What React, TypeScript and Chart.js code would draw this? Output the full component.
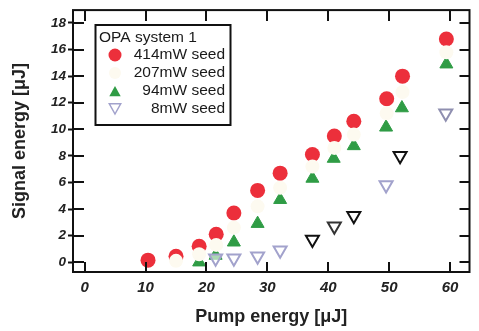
import React, { useEffect, useRef } from 'react';
import { Chart, registerables } from 'chart.js';
Chart.register(...registerables);

// ---- data ----
const pump414 = [10.4, 15.0, 18.8, 21.6, 24.5, 28.4, 32.1, 37.4, 41.0, 44.2, 49.6, 52.2, 59.4];
const sig414 = [0.15, 0.45, 1.2, 2.1, 3.7, 5.4, 6.7, 8.1, 9.5, 10.6, 12.3, 14.0, 16.8];
const pump207 = [15.0, 18.8, 21.6, 24.5, 28.4, 32.1, 37.4, 41.0, 44.2, 49.6, 52.2, 59.4];
const sig207 = [0.1, 0.6, 1.3, 2.6, 4.2, 5.6, 7.2, 8.6, 9.6, 11.2, 12.8, 15.8];
const pump94 = [18.8, 21.5, 24.5, 28.4, 32.1, 37.4, 40.9, 44.2, 49.5, 52.1, 59.4];
const sig94 = [0.0, 0.5, 1.5, 2.9, 4.7, 6.3, 7.8, 8.75, 10.15, 11.6, 14.9];
const pump8 = [21.5, 24.5, 28.4, 32.1, 37.4, 41.0, 44.2, 49.5, 51.8, 59.3];
const sig8 = [0.3, 0.3, 0.45, 0.9, 1.7, 2.7, 3.5, 5.8, 8.0, 11.2];
const seedLabels = ['414mW seed', '207mW seed', '94mW seed', '8mW seed'];
const legendTitle = 'OPA system 1';
const xTicks = [0, 10, 20, 30, 40, 50, 60];
const yTicks = [0, 2, 4, 6, 8, 10, 12, 14, 16, 18];
const xTitle = 'Pump energy [\u03bcJ]';
const yTitle = 'Signal energy [\u03bcJ]';

const RED = '#ec2f3b';
const PALE = '#fdfaf0';
const GREEN = '#2f9c45';
const LAV = '#a2a2cc';
const DARK = '#111';
const FONT = '"Liberation Sans", Arial, sans-serif';

const pts = (xs: number[], ys: number[]) => xs.map((x, i) => ({ x, y: ys[i] }));

function tri(ctx: CanvasRenderingContext2D, x: number, y: number, r: number, down: boolean) {
  const s = down ? -1 : 1;
  ctx.beginPath();
  ctx.moveTo(x, y - s * r);
  ctx.lineTo(x + r * 0.95, y + s * r * 0.7);
  ctx.lineTo(x - r * 0.95, y + s * r * 0.7);
  ctx.closePath();
}

const framePlugin = {
  id: 'frame',
  afterDraw(chart: any) {
    const { ctx, chartArea } = chart;
    const { left, right, top, bottom } = chartArea;
    const xs = chart.scales.x;
    const ys = chart.scales.y;
    ctx.save();
    ctx.strokeStyle = DARK;
    ctx.lineWidth = 2;
    ctx.strokeRect(left, top, right - left, bottom - top);
    ctx.beginPath();
    xTicks.forEach((v) => {
      const px = Math.round(xs.getPixelForValue(v));
      ctx.moveTo(px, bottom);
      ctx.lineTo(px, bottom - 10);
      ctx.moveTo(px, top);
      ctx.lineTo(px, top + 11);
    });
    yTicks.forEach((v) => {
      const py = Math.round(ys.getPixelForValue(v));
      ctx.moveTo(left, py);
      ctx.lineTo(left + 11, py);
      ctx.moveTo(right, py);
      ctx.lineTo(right - 10, py);
    });
    ctx.stroke();

    // legend
    const bx = 95.5, by = 25, bw = 135, bh = 100;
    ctx.fillStyle = '#fff';
    ctx.fillRect(bx, by, bw, bh);
    ctx.lineWidth = 2;
    ctx.strokeStyle = DARK;
    ctx.strokeRect(bx, by, bw, bh);
    ctx.fillStyle = '#1a1a1a';
    ctx.font = `15.5px ${FONT}`;
    ctx.textBaseline = 'middle';
    ctx.textAlign = 'left';
    ctx.fillText(legendTitle, 99, 38);
    ctx.textAlign = 'right';
    const rows = [55, 73, 91, 109];
    seedLabels.forEach((lab, i) => ctx.fillText(lab, 225, rows[i]));
    // symbols
    ctx.beginPath();
    ctx.arc(115, rows[0], 6.5, 0, Math.PI * 2);
    ctx.fillStyle = RED;
    ctx.fill();
    ctx.beginPath();
    ctx.arc(115, rows[1], 6, 0, Math.PI * 2);
    ctx.fillStyle = PALE;
    ctx.fill();
    tri(ctx, 115, rows[2] + 1, 6, false);
    ctx.fillStyle = GREEN;
    ctx.fill();
    tri(ctx, 115, rows[3] - 1, 6, true);
    ctx.lineWidth = 1.5;
    ctx.strokeStyle = LAV;
    ctx.stroke();
    ctx.restore();
  },
};

export default function App() {
  const ref = useRef<HTMLCanvasElement | null>(null);
  useEffect(() => {
    if (!ref.current) return;
    const tickFont = { family: FONT, weight: 'bold' as const, style: 'italic' as const };
    const chart = new Chart(ref.current, {
      type: 'scatter',
      data: {
        datasets: [
          {
            label: seedLabels[1],
            data: pts(pump207, sig207),
            pointStyle: 'circle',
            pointRadius: 7,
            backgroundColor: PALE,
            borderColor: PALE,
            borderWidth: 0,
          },
          {
            label: seedLabels[3],
            data: pts(pump8, sig8),
            pointStyle: 'triangle',
            rotation: 180,
            pointRadius: 7.5,
            backgroundColor: 'rgba(255,255,255,0.6)',
            borderColor: [LAV, LAV, LAV, LAV, DARK, '#333', DARK, LAV, DARK, '#8f8fb0'],
            borderWidth: 2,
          },
          {
            label: seedLabels[2],
            data: pts(pump94, sig94),
            pointStyle: 'triangle',
            pointRadius: 7.5,
            backgroundColor: GREEN,
            borderColor: GREEN,
            borderWidth: 1,
          },
          {
            label: seedLabels[0],
            data: pts(pump414, sig414),
            pointStyle: 'circle',
            pointRadius: 7.5,
            backgroundColor: RED,
            borderColor: RED,
            borderWidth: 0,
          },
        ],
      },
      options: {
        responsive: false,
        animation: false,
        devicePixelRatio: 1,
        layout: { padding: { top: 7, right: -1, left: 0, bottom: 0 } },
        plugins: { legend: { display: false }, tooltip: { enabled: false } },
        scales: {
          x: {
            type: 'linear',
            min: -1.92,
            max: 63.2,
            afterBuildTicks: (s: any) => { s.ticks = xTicks.map((v) => ({ value: v })); },
            afterFit: (s: any) => { s.height = 59; },
            border: { display: false },
            grid: { display: true, drawOnChartArea: false, drawTicks: false, color: DARK },
            ticks: { padding: 7, color: '#222', font: { ...tickFont, size: 15 }, maxRotation: 0 },
            title: {
              display: true,
              text: xTitle,
              color: '#222',
              font: { family: FONT, weight: 'bold', size: 18 },
              padding: { top: 0, bottom: 3 },
            },
          },
          y: {
            type: 'linear',
            min: -0.74,
            max: 18.97,
            afterBuildTicks: (s: any) => { s.ticks = yTicks.map((v) => ({ value: v })); },
            afterFit: (s: any) => { s.width = 73; },
            border: { display: false },
            grid: { display: true, drawOnChartArea: false, drawTicks: true, tickLength: 5, tickWidth: 2, color: DARK },
            ticks: { padding: 2, color: '#222', font: { ...tickFont, size: 13.5 } },
            title: {
              display: true,
              text: yTitle,
              color: '#222',
              font: { family: FONT, weight: 'bold', size: 18 },
              padding: { top: 9, bottom: 0 },
            },
          },
        },
      },
      plugins: [framePlugin],
    });
    return () => chart.destroy();
  }, []);
  return (
    <div style={{ position: 'fixed', left: 0, top: 0, width: 479, height: 331, background: '#fff' }}>
      <canvas ref={ref} width={479} height={331} />
    </div>
  );
}
